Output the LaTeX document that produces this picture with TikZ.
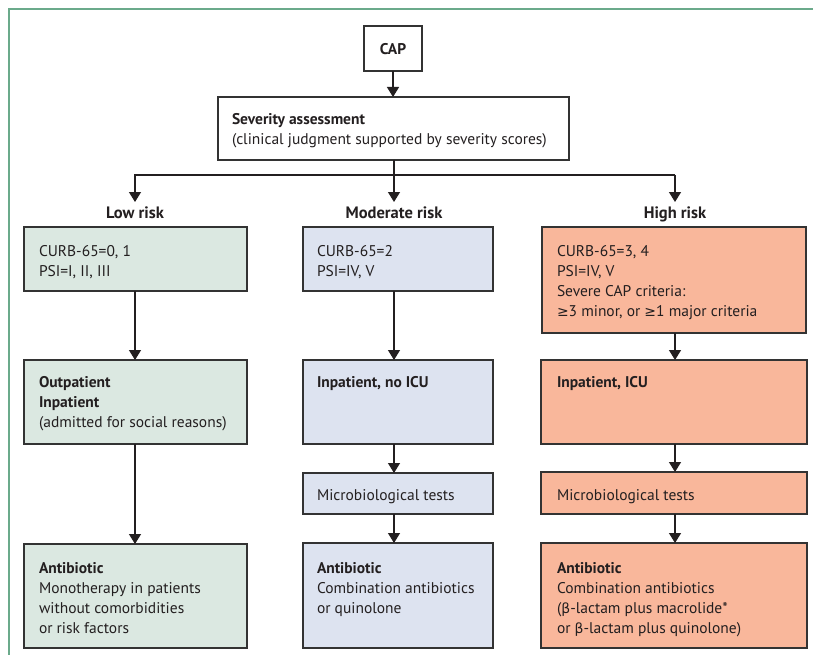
\documentclass[tikz,border=0pt]{standalone}
\usepackage{fontspec}
\setmainfont{PT Sans}
\newfontfamily\symf[Scale=0.9]{DejaVu Sans}
\usetikzlibrary{arrows.meta,fit}
\definecolor{framec}{HTML}{6BAA8B}
\definecolor{lowc}{HTML}{DBE8E1}
\definecolor{modc}{HTML}{DDE3F0}
\definecolor{highc}{HTML}{F9B79B}
\definecolor{bordc}{HTML}{333333}
\definecolor{inkc}{HTML}{231F20}
\tikzset{
  x=1pt, y=-1pt,
  box/.style={draw=bordc, line width=1.4pt, inner sep=0pt, outer sep=0pt},
  txt/.style={anchor=north west, inner sep=0pt, outer sep=0pt, align=left, text=inkc,
    font=\fontsize{15.5}{20}\selectfont},
  lab/.style={anchor=base, inner sep=0pt, text=inkc, font=\fontsize{16.5}{20}\selectfont\bfseries},
  ln/.style={draw=inkc, line width=1.3pt},
  arr/.style={draw=inkc, line width=1.3pt, -{Triangle[width=12pt,length=10pt]}},
}
\begin{document}
\begin{tikzpicture}
\useasboundingbox (0,0) rectangle (813,655);
\fill[white] (0,0) rectangle (813,655);
% frame
\draw[framec, line width=2pt] (8.5,655) -- (8.5,9.5) -- (813,9.5);

% top boxes
\node[box, fill=white, fit={(364,26) (422,71)}] (cap) {};
\node[lab, anchor=center, font=\fontsize{15.5}{20}\selectfont\bfseries] (capt) at (393,49) {CAP};
\node[box, fill=white, fit={(218,97) (569,160)}] (sev) {};
\node[txt] (sevt) at (232,111) {\strut\textbf{Severity assessment}\\(clinical judgment supported by severity scores)};

% branch coordinates
\coordinate (lowtip) at (135,202);
\coordinate (modtip) at (394,202);
\coordinate (hightip) at (675,202);
\coordinate (hr) at (675,175);

% labels
\node[lab] (lowlab) at (135,218) {Low risk};
\node[lab] (modlab) at (394,218) {Moderate risk};
\node[lab] (highlab) at (675,218) {High risk};

% row 1
\node[box, fill=lowc, fit={(24,227) (247,291)}] (l1) {};
\node[box, fill=modc, fit={(303,227) (493,291)}] (m1) {};
\node[box, fill=highc, fit={(542,227) (806,333)}] (h1) {};
\node[txt] (l1t) at (39,242) {\strut CURB-65=0, 1\\PSI=I, II, III};
\node[txt] (m1t) at (317,242) {\strut CURB-65=2\\PSI=IV, V};
\node[txt] (h1t) at (557,242) {\strut CURB-65=3, 4\\PSI=IV, V\\Severe CAP criteria:\\{\symf ≥}3 minor, or {\symf ≥}1 major criteria};

% row 2
\node[box, fill=lowc, fit={(24,360) (247,444)}] (l2) {};
\node[box, fill=modc, fit={(303,360) (493,444)}] (m2) {};
\node[box, fill=highc, fit={(541,360) (807,444)}] (h2) {};
\node[txt] (l2t) at (39,373) {\strut\textbf{Outpatient}\\\textbf{Inpatient}\\(admitted for social reasons)};
\node[txt] (m2t) at (317,373) {\strut\textbf{Inpatient, no ICU}};
\node[txt] (h2t) at (557,373) {\strut\textbf{Inpatient, ICU}};

% row 3
\node[box, fill=modc, fit={(303,473) (493,514)}] (m3) {};
\node[box, fill=highc, fit={(541,472) (807,514)}] (h3) {};
\node[txt] (m3t) at (317,486) {\strut Microbiological tests};
\node[txt] (h3t) at (557,486) {\strut Microbiological tests};

% row 4
\node[box, fill=lowc, fit={(24,544) (247,648)}] (l4) {};
\node[box, fill=modc, fit={(303,543) (493,648)}] (m4) {};
\node[box, fill=highc, fit={(541,543) (807,648)}] (h4) {};
\node[txt] (l4t) at (39,559) {\strut\textbf{Antibiotic}\\Monotherapy in patients\\without comorbidities\\or risk factors};
\node[txt] (m4t) at (317,559) {\strut\textbf{Antibiotic}\\Combination antibiotics\\or quinolone};
\node[txt] (h4t) at (557,559) {\strut\textbf{Antibiotic}\\Combination antibiotics\\({\symf β}-lactam plus macrolide*\\or {\symf β}-lactam plus quinolone)};

% connectors
\draw[arr] (cap.south) -- (cap.south |- sev.north);
\draw[arr] (sev.south -| modtip) -- (modtip);
\draw[arr] (hr) -| (lowtip);
\draw[arr] (hr) -- (hightip);

\draw[arr] (l1.south -| lowtip) -- (l2.north -| lowtip);
\draw[arr] (l2.south -| lowtip) -- (l4.north -| lowtip);

\draw[arr] (m1.south -| modtip) -- (m2.north -| modtip);
\draw[arr] (m2.south -| modtip) -- (m3.north -| modtip);
\draw[arr] (m3.south -| modtip) -- (m4.north -| modtip);

\draw[arr] (h1.south -| hightip) -- (h2.north -| hightip);
\draw[arr] (h2.south -| hightip) -- (h3.north -| hightip);
\draw[arr] (h3.south -| hightip) -- (h4.north -| hightip);
\end{tikzpicture}
\end{document}
